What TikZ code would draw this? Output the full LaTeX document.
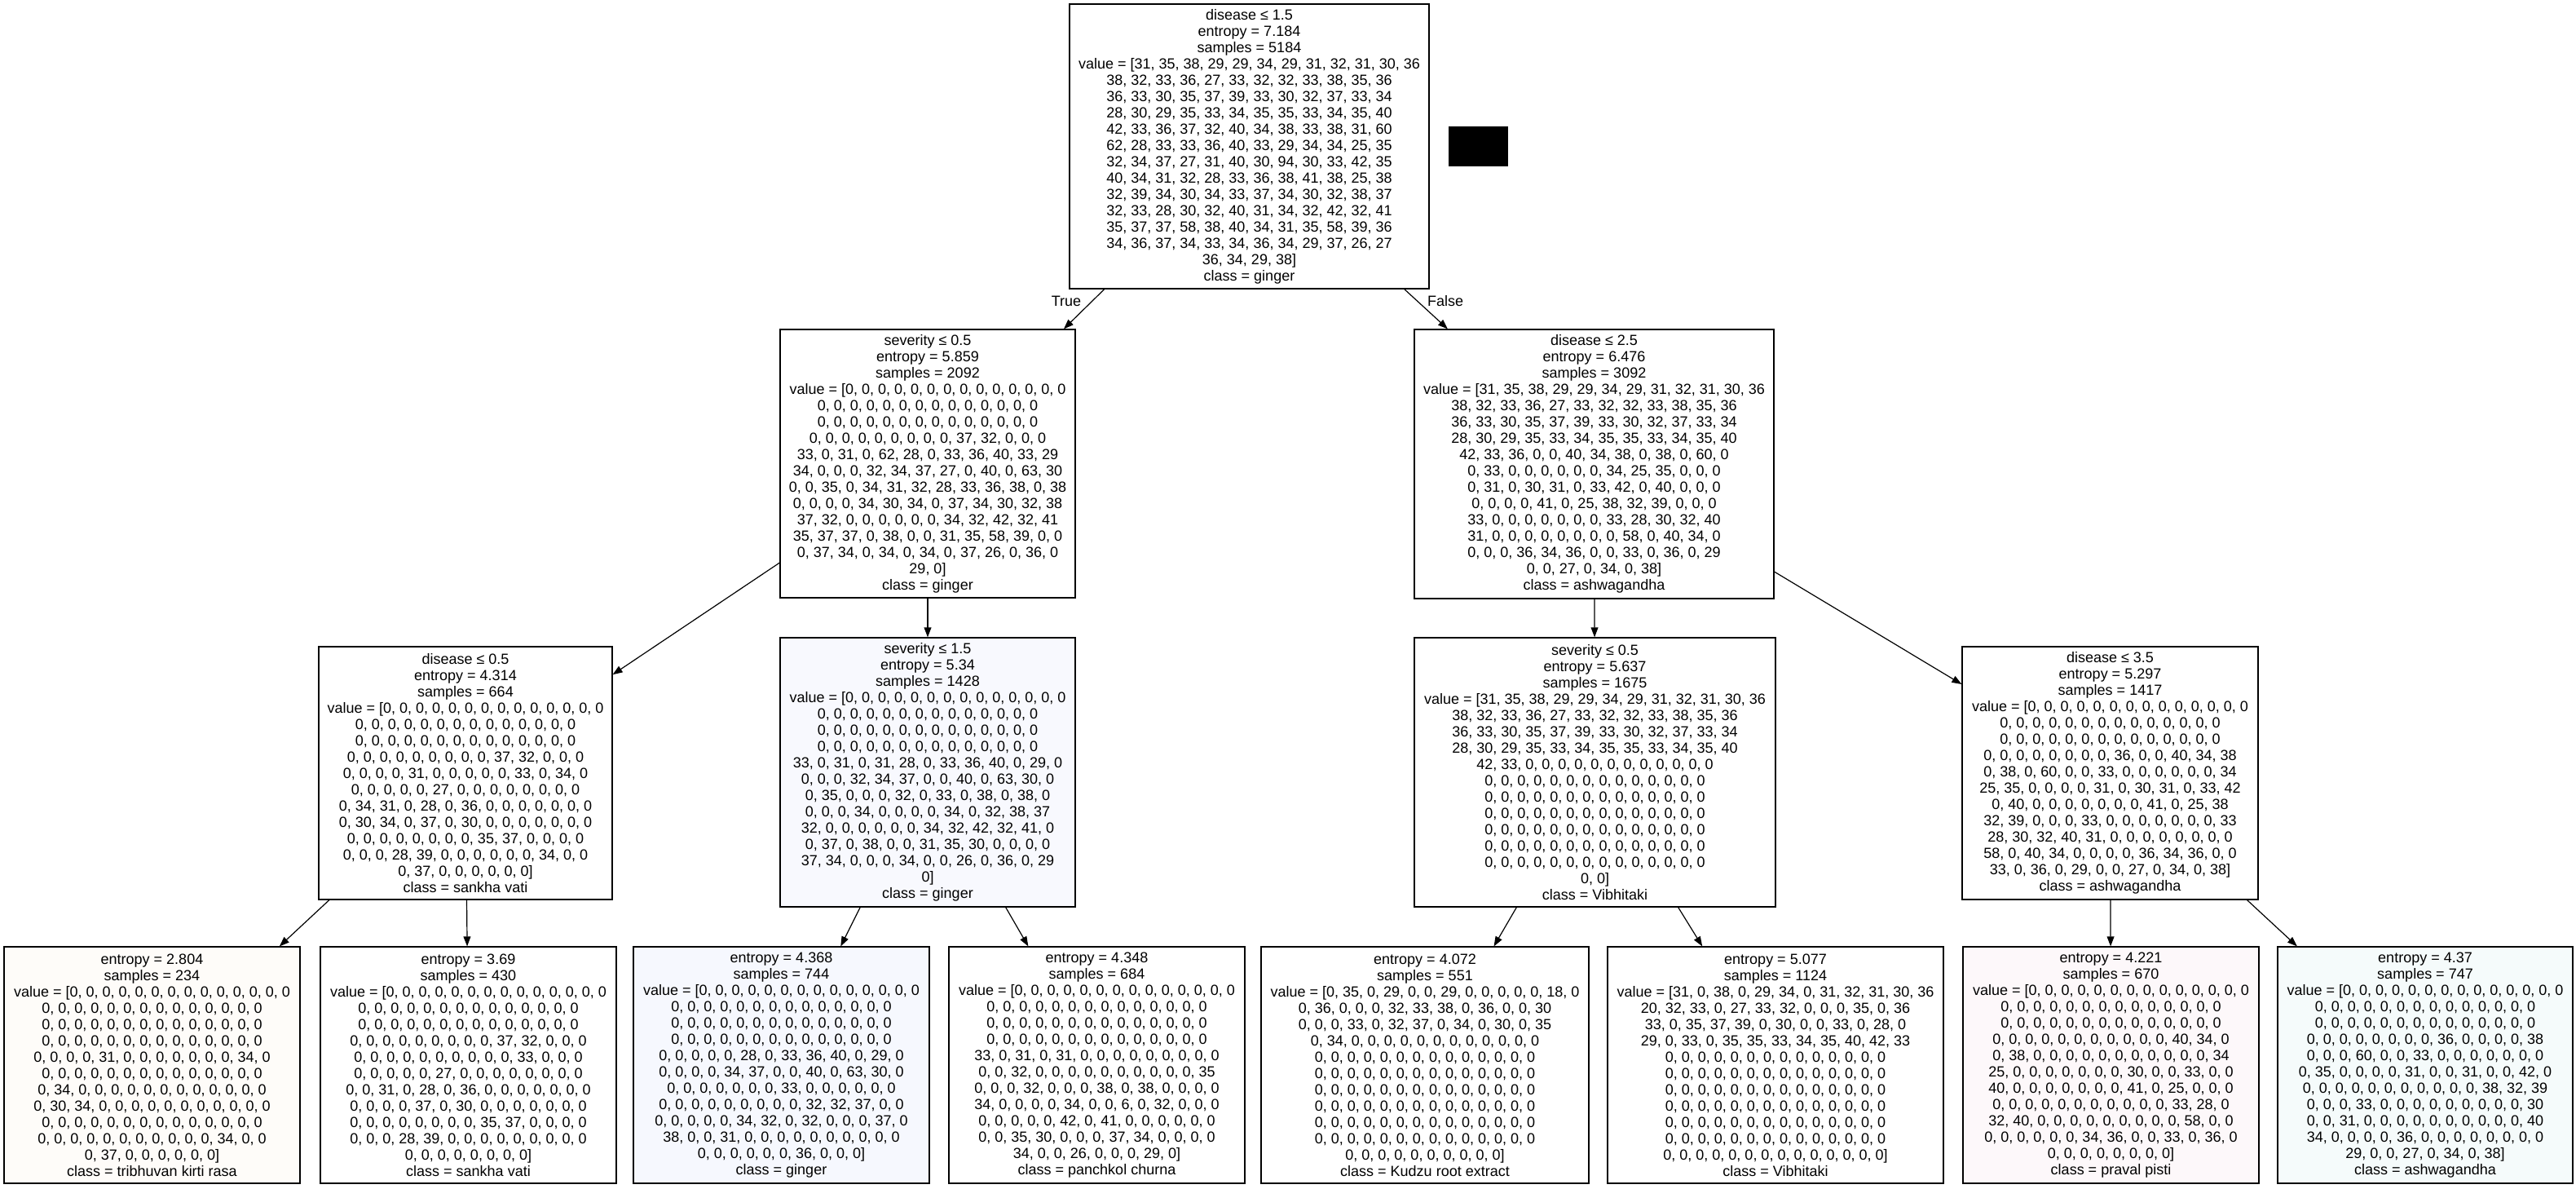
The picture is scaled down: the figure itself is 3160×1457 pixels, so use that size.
\documentclass[tikz,border=0pt]{standalone}
\usepackage{fontspec}
\setmainfont{Liberation Sans}
\usetikzlibrary{arrows.meta}
\newcommand\zrow{0, 0, 0, 0, 0, 0, 0, 0, 0, 0, 0, 0, 0, 0}
\definecolor{cginger}{HTML}{F8F9FE}
\definecolor{cgingerleaf}{HTML}{F6F8FE}
\definecolor{ctrib}{HTML}{FEFCF9}
\definecolor{cpraval}{HTML}{FDF8FA}
\definecolor{cashw}{HTML}{F5FBFB}
\begin{document}
\begin{tikzpicture}[x=0.5pt, y=-0.5pt,
  every node/.style={font=\fontsize{9}{10}\selectfont},
  tn/.style n args={3}{draw=black, line width=0.6pt, align=center, inner sep=0pt,
     minimum width=#1*0.5pt, minimum height=#2*0.5pt, fill=#3},
  conn/.style={line width=0.6pt, -{Triangle[length=6pt,width=4.4pt]}},
  lbl/.style={inner sep=0pt}]
\useasboundingbox (0,0) rectangle (3160,1457);
\fill[white] (0,0) rectangle (3160,1457);

% ---------- level 1
\node[tn={441}{349}{white}] (root) at (1532.5,179.5) {disease ≤ 1.5\\
entropy = 7.184\\
samples = 5184\\
value = [31, 35, 38, 29, 29, 34, 29, 31, 32, 31, 30, 36\\
38, 32, 33, 36, 27, 33, 32, 32, 33, 38, 35, 36\\
36, 33, 30, 35, 37, 39, 33, 30, 32, 37, 33, 34\\
28, 30, 29, 35, 33, 34, 35, 35, 33, 34, 35, 40\\
42, 33, 36, 37, 32, 40, 34, 38, 33, 38, 31, 60\\
62, 28, 33, 33, 36, 40, 33, 29, 34, 34, 25, 35\\
32, 34, 37, 27, 31, 40, 30, 94, 30, 33, 42, 35\\
40, 34, 31, 32, 28, 33, 36, 38, 41, 38, 25, 38\\
32, 39, 34, 30, 34, 33, 37, 34, 30, 32, 38, 37\\
32, 33, 28, 30, 32, 40, 31, 34, 32, 42, 32, 41\\
35, 37, 37, 58, 38, 40, 34, 31, 35, 58, 39, 36\\
34, 36, 37, 34, 33, 34, 36, 34, 29, 37, 26, 27\\
36, 34, 29, 38]\\
class = ginger};

\node[fill=black, minimum width=36.5pt, minimum height=24.5pt, inner sep=0pt] (redact) at (1813.5,179.5) {};

% ---------- level 2
\node[tn={362}{329}{white}] (l2l) at (1138,568.5) {severity ≤ 0.5\\
entropy = 5.859\\
samples = 2092\\
value = [\zrow\\
\zrow\\
\zrow\\
0, 0, 0, 0, 0, 0, 0, 0, 0, 37, 32, 0, 0, 0\\
33, 0, 31, 0, 62, 28, 0, 33, 36, 40, 33, 29\\
34, 0, 0, 0, 32, 34, 37, 27, 0, 40, 0, 63, 30\\
0, 0, 35, 0, 34, 31, 32, 28, 33, 36, 38, 0, 38\\
0, 0, 0, 0, 34, 30, 34, 0, 37, 34, 30, 32, 38\\
37, 32, 0, 0, 0, 0, 0, 0, 34, 32, 42, 32, 41\\
35, 37, 37, 0, 38, 0, 0, 31, 35, 58, 39, 0, 0\\
0, 37, 34, 0, 34, 0, 34, 0, 37, 26, 0, 36, 0\\
29, 0]\\
class = ginger};

\node[tn={441}{330}{white}] (l2r) at (1955.5,569) {disease ≤ 2.5\\
entropy = 6.476\\
samples = 3092\\
value = [31, 35, 38, 29, 29, 34, 29, 31, 32, 31, 30, 36\\
38, 32, 33, 36, 27, 33, 32, 32, 33, 38, 35, 36\\
36, 33, 30, 35, 37, 39, 33, 30, 32, 37, 33, 34\\
28, 30, 29, 35, 33, 34, 35, 35, 33, 34, 35, 40\\
42, 33, 36, 0, 0, 40, 34, 38, 0, 38, 0, 60, 0\\
0, 33, 0, 0, 0, 0, 0, 0, 34, 25, 35, 0, 0, 0\\
0, 31, 0, 30, 31, 0, 33, 42, 0, 40, 0, 0, 0\\
0, 0, 0, 0, 41, 0, 25, 38, 32, 39, 0, 0, 0\\
33, 0, 0, 0, 0, 0, 0, 0, 33, 28, 30, 32, 40\\
31, 0, 0, 0, 0, 0, 0, 0, 0, 58, 0, 40, 34, 0\\
0, 0, 0, 36, 34, 36, 0, 0, 33, 0, 36, 0, 29\\
0, 0, 27, 0, 34, 0, 38]\\
class = ashwagandha};

% ---------- level 3
\node[tn={360}{310}{white}] (l3a) at (571,948) {disease ≤ 0.5\\
entropy = 4.314\\
samples = 664\\
value = [\zrow\\
\zrow\\
\zrow\\
0, 0, 0, 0, 0, 0, 0, 0, 0, 37, 32, 0, 0, 0\\
0, 0, 0, 0, 31, 0, 0, 0, 0, 0, 33, 0, 34, 0\\
0, 0, 0, 0, 0, 27, 0, 0, 0, 0, 0, 0, 0, 0\\
0, 34, 31, 0, 28, 0, 36, 0, 0, 0, 0, 0, 0, 0\\
0, 30, 34, 0, 37, 0, 30, 0, 0, 0, 0, 0, 0, 0\\
0, 0, 0, 0, 0, 0, 0, 0, 35, 37, 0, 0, 0, 0\\
0, 0, 0, 28, 39, 0, 0, 0, 0, 0, 0, 34, 0, 0\\
0, 37, 0, 0, 0, 0, 0, 0]\\
class = sankha vati};

\node[tn={362}{330}{cginger}] (l3b) at (1138,947) {severity ≤ 1.5\\
entropy = 5.34\\
samples = 1428\\
value = [\zrow\\
\zrow\\
\zrow\\
\zrow\\
33, 0, 31, 0, 31, 28, 0, 33, 36, 40, 0, 29, 0\\
0, 0, 0, 32, 34, 37, 0, 0, 40, 0, 63, 30, 0\\
0, 35, 0, 0, 0, 32, 0, 33, 0, 38, 0, 38, 0\\
0, 0, 0, 34, 0, 0, 0, 0, 34, 0, 32, 38, 37\\
32, 0, 0, 0, 0, 0, 0, 34, 32, 42, 32, 41, 0\\
0, 37, 0, 38, 0, 0, 31, 35, 30, 0, 0, 0, 0\\
37, 34, 0, 0, 0, 34, 0, 0, 26, 0, 36, 0, 29\\
0]\\
class = ginger};

\node[tn={443}{330}{white}] (l3c) at (1956.5,947) {severity ≤ 0.5\\
entropy = 5.637\\
samples = 1675\\
value = [31, 35, 38, 29, 29, 34, 29, 31, 32, 31, 30, 36\\
38, 32, 33, 36, 27, 33, 32, 32, 33, 38, 35, 36\\
36, 33, 30, 35, 37, 39, 33, 30, 32, 37, 33, 34\\
28, 30, 29, 35, 33, 34, 35, 35, 33, 34, 35, 40\\
42, 33, 0, 0, 0, 0, 0, 0, 0, 0, 0, 0, 0, 0\\
\zrow\\
\zrow\\
\zrow\\
\zrow\\
\zrow\\
\zrow\\
0, 0]\\
class = Vibhitaki};

\node[tn={363}{310}{white}] (l3d) at (2588.5,948) {disease ≤ 3.5\\
entropy = 5.297\\
samples = 1417\\
value = [\zrow\\
\zrow\\
\zrow\\
0, 0, 0, 0, 0, 0, 0, 0, 36, 0, 0, 40, 34, 38\\
0, 38, 0, 60, 0, 0, 33, 0, 0, 0, 0, 0, 0, 34\\
25, 35, 0, 0, 0, 0, 31, 0, 30, 31, 0, 33, 42\\
0, 40, 0, 0, 0, 0, 0, 0, 0, 41, 0, 25, 38\\
32, 39, 0, 0, 0, 33, 0, 0, 0, 0, 0, 0, 0, 33\\
28, 30, 32, 40, 31, 0, 0, 0, 0, 0, 0, 0, 0\\
58, 0, 40, 34, 0, 0, 0, 0, 36, 34, 36, 0, 0\\
33, 0, 36, 0, 29, 0, 0, 27, 0, 34, 0, 38]\\
class = ashwagandha};

% ---------- level 4 (leaves)
\node[tn={363}{290}{ctrib}] (f1) at (186.5,1306) {entropy = 2.804\\
samples = 234\\
value = [\zrow\\
\zrow\\
\zrow\\
\zrow\\
0, 0, 0, 0, 31, 0, 0, 0, 0, 0, 0, 0, 34, 0\\
\zrow\\
0, 34, 0, 0, 0, 0, 0, 0, 0, 0, 0, 0, 0, 0\\
0, 30, 34, 0, 0, 0, 0, 0, 0, 0, 0, 0, 0, 0\\
\zrow\\
0, 0, 0, 0, 0, 0, 0, 0, 0, 0, 0, 34, 0, 0\\
0, 37, 0, 0, 0, 0, 0, 0]\\
class = tribhuvan kirti rasa};

\node[tn={363}{290}{white}] (f2) at (574.5,1306) {entropy = 3.69\\
samples = 430\\
value = [\zrow\\
\zrow\\
\zrow\\
0, 0, 0, 0, 0, 0, 0, 0, 0, 37, 32, 0, 0, 0\\
0, 0, 0, 0, 0, 0, 0, 0, 0, 0, 33, 0, 0, 0\\
0, 0, 0, 0, 0, 27, 0, 0, 0, 0, 0, 0, 0, 0\\
0, 0, 31, 0, 28, 0, 36, 0, 0, 0, 0, 0, 0, 0\\
0, 0, 0, 0, 37, 0, 30, 0, 0, 0, 0, 0, 0, 0\\
0, 0, 0, 0, 0, 0, 0, 0, 35, 37, 0, 0, 0, 0\\
0, 0, 0, 28, 39, 0, 0, 0, 0, 0, 0, 0, 0, 0\\
0, 0, 0, 0, 0, 0, 0, 0]\\
class = sankha vati};

\node[tn={363}{290}{cgingerleaf}] (f3) at (958.5,1306) {entropy = 4.368\\
samples = 744\\
value = [\zrow\\
\zrow\\
\zrow\\
\zrow\\
0, 0, 0, 0, 0, 28, 0, 33, 36, 40, 0, 29, 0\\
0, 0, 0, 0, 34, 37, 0, 0, 40, 0, 63, 30, 0\\
0, 0, 0, 0, 0, 0, 0, 33, 0, 0, 0, 0, 0, 0\\
0, 0, 0, 0, 0, 0, 0, 0, 0, 32, 32, 37, 0, 0\\
0, 0, 0, 0, 0, 34, 32, 0, 32, 0, 0, 0, 37, 0\\
38, 0, 0, 31, 0, 0, 0, 0, 0, 0, 0, 0, 0, 0\\
0, 0, 0, 0, 0, 0, 36, 0, 0, 0]\\
class = ginger};

\node[tn={363}{290}{white}] (f4) at (1345.5,1306) {entropy = 4.348\\
samples = 684\\
value = [\zrow\\
\zrow\\
\zrow\\
\zrow\\
33, 0, 31, 0, 31, 0, 0, 0, 0, 0, 0, 0, 0, 0\\
0, 0, 32, 0, 0, 0, 0, 0, 0, 0, 0, 0, 0, 35\\
0, 0, 0, 32, 0, 0, 0, 38, 0, 38, 0, 0, 0, 0\\
34, 0, 0, 0, 0, 34, 0, 0, 6, 0, 32, 0, 0, 0\\
0, 0, 0, 0, 0, 42, 0, 41, 0, 0, 0, 0, 0, 0\\
0, 0, 35, 30, 0, 0, 0, 37, 34, 0, 0, 0, 0\\
34, 0, 0, 26, 0, 0, 0, 29, 0]\\
class = panchkol churna};

\node[tn={402}{290}{white}] (f5) at (1748,1306) {entropy = 4.072\\
samples = 551\\
value = [0, 35, 0, 29, 0, 0, 29, 0, 0, 0, 0, 0, 18, 0\\
0, 36, 0, 0, 0, 32, 33, 38, 0, 36, 0, 0, 30\\
0, 0, 0, 33, 0, 32, 37, 0, 34, 0, 30, 0, 35\\
0, 34, 0, 0, 0, 0, 0, 0, 0, 0, 0, 0, 0, 0\\
\zrow\\
\zrow\\
\zrow\\
\zrow\\
\zrow\\
\zrow\\
0, 0, 0, 0, 0, 0, 0, 0, 0, 0]\\
class = Kudzu root extract};

\node[tn={412}{290}{white}] (f6) at (2178,1306) {entropy = 5.077\\
samples = 1124\\
value = [31, 0, 38, 0, 29, 34, 0, 31, 32, 31, 30, 36\\
20, 32, 33, 0, 27, 33, 32, 0, 0, 0, 35, 0, 36\\
33, 0, 35, 37, 39, 0, 30, 0, 0, 33, 0, 28, 0\\
29, 0, 33, 0, 35, 35, 33, 34, 35, 40, 42, 33\\
\zrow\\
\zrow\\
\zrow\\
\zrow\\
\zrow\\
\zrow\\
\zrow]\\
class = Vibhitaki};

\node[tn={363}{290}{cpraval}] (f7) at (2589.5,1306) {entropy = 4.221\\
samples = 670\\
value = [\zrow\\
\zrow\\
\zrow\\
0, 0, 0, 0, 0, 0, 0, 0, 0, 0, 0, 40, 34, 0\\
0, 38, 0, 0, 0, 0, 0, 0, 0, 0, 0, 0, 0, 34\\
25, 0, 0, 0, 0, 0, 0, 0, 30, 0, 0, 33, 0, 0\\
40, 0, 0, 0, 0, 0, 0, 0, 41, 0, 25, 0, 0, 0\\
0, 0, 0, 0, 0, 0, 0, 0, 0, 0, 0, 33, 28, 0\\
32, 40, 0, 0, 0, 0, 0, 0, 0, 0, 0, 58, 0, 0\\
0, 0, 0, 0, 0, 0, 34, 36, 0, 0, 33, 0, 36, 0\\
0, 0, 0, 0, 0, 0, 0, 0]\\
class = praval pisti};

\node[tn={362}{290}{cashw}] (f8) at (2975,1306) {entropy = 4.37\\
samples = 747\\
value = [\zrow\\
\zrow\\
\zrow\\
0, 0, 0, 0, 0, 0, 0, 0, 36, 0, 0, 0, 0, 38\\
0, 0, 0, 60, 0, 0, 33, 0, 0, 0, 0, 0, 0, 0\\
0, 35, 0, 0, 0, 0, 31, 0, 0, 31, 0, 0, 42, 0\\
0, 0, 0, 0, 0, 0, 0, 0, 0, 0, 0, 38, 32, 39\\
0, 0, 0, 33, 0, 0, 0, 0, 0, 0, 0, 0, 0, 30\\
0, 0, 31, 0, 0, 0, 0, 0, 0, 0, 0, 0, 0, 40\\
34, 0, 0, 0, 0, 36, 0, 0, 0, 0, 0, 0, 0, 0\\
29, 0, 0, 27, 0, 34, 0, 38]\\
class = ashwagandha};

% ---------- connectors
\draw[conn] (root) -- (l2l);
\draw[conn] (root) -- (l2r);
\draw[conn] (l2l) -- (l3a);
\draw[conn] (l2l) -- (l3b);
\draw[conn] (l2r) -- (l3c);
\draw[conn] (l2r) -- (l3d);
\draw[conn] (l3a) -- (f1);
\draw[conn] (l3a) -- (f2);
\draw[conn] (l3b) -- (f3);
\draw[conn] (l3b) -- (f4);
\draw[conn] (l3c) -- (f5);
\draw[conn] (l3c) -- (f6);
\draw[conn] (l3d) -- (f7);
\draw[conn] (l3d) -- (f8);

\node[lbl] (ltrue) at (1308,369) {True};
\node[lbl] (lfalse) at (1773,369) {False};
\end{tikzpicture}
\end{document}
